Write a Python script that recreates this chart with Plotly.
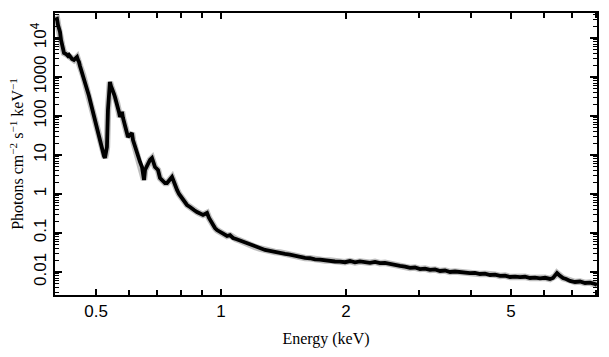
import plotly.graph_objects as go

# Energy (keV) and flux (photons cm^-2 s^-1 keV^-1)
energy = [
    0.398, 0.4026, 0.4048, 0.4093, 0.4116, 0.4139, 0.4162, 0.4185, 0.4232, 0.4279,
    0.4302, 0.4350, 0.4375, 0.4423, 0.4448, 0.4498, 0.4522, 0.4548, 0.4573, 0.4598,
    0.4650, 0.4676, 0.4727, 0.4754, 0.4807, 0.4833, 0.4888, 0.4915, 0.4969, 0.4997,
    0.5052, 0.5109, 0.5166, 0.5195, 0.5224, 0.5253, 0.5282, 0.5311, 0.5341, 0.5370,
    0.5400, 0.5430, 0.5460, 0.5492, 0.5522, 0.5553, 0.5615, 0.5646, 0.5677, 0.5709,
    0.5741, 0.5772, 0.5806, 0.5870, 0.5935, 0.5968, 0.6034, 0.6101, 0.6137, 0.6205,
    0.6274, 0.6310, 0.6380, 0.6451, 0.6486, 0.6524, 0.6560, 0.6633, 0.6670, 0.6744,
    0.6819, 0.6857, 0.6934, 0.7012, 0.7050, 0.7129, 0.7208, 0.7248, 0.7330, 0.7412,
    0.7494, 0.7578, 0.7620, 0.7704, 0.7749, 0.7835, 0.7922, 0.8010, 0.8099, 0.8189,
    0.8281, 0.8419, 0.8513, 0.8608, 0.8753, 0.8851, 0.8951, 0.9050, 0.9150, 0.9254,
    0.9356, 0.9461, 0.9566, 0.9672, 0.9781, 0.9890, 1.000, 1.0168, 1.0339, 1.0512,
    1.0688, 1.0867, 1.1111, 1.1424, 1.1746, 1.2076, 1.2416, 1.2765, 1.3124, 1.3493,
    1.3872, 1.4262, 1.4663, 1.5075, 1.5499, 1.5935, 1.6383, 1.6843, 1.7317, 1.7804,
    1.8304, 1.8819, 1.9349, 1.9893, 2.045, 2.103, 2.162, 2.223, 2.286, 2.350,
    2.416, 2.484, 2.554, 2.626, 2.700, 2.776, 2.854, 2.934, 3.017, 3.102,
    3.189, 3.279, 3.371, 3.466, 3.563, 3.664, 3.767, 3.873, 3.981, 4.093,
    4.209, 4.327, 4.449, 4.574, 4.703, 4.835, 4.971, 5.111, 5.254, 5.402,
    5.554, 5.710, 5.871, 6.036, 6.205, 6.310, 6.380, 6.450, 6.523, 6.596,
    6.669, 6.781, 6.934, 7.129, 7.329, 7.536, 7.747, 7.965, 8.054,
]
flux = [
    28960, 30700, 21540, 14250, 8890, 6620, 4380, 4120, 3890, 3455,
    3665, 3070, 2895, 2730, 2895, 3260, 2730, 2425, 1915, 1603,
    1125, 889, 624, 492, 326, 257, 160, 106, 78.9, 52.2,
    32.6, 22.9, 16.0, 11.9, 9.43, 8.38, 10.6, 16.0, 143, 464,
    745, 588, 522, 464, 366, 307, 215, 170, 127, 94.2,
    119, 127, 88.9, 52.2, 38.9, 28.9, 32.6, 36.6, 24.2, 16.0,
    11.9, 8.89, 6.62, 4.92, 3.67, 2.29, 4.12, 5.54, 6.24, 7.44,
    8.38, 6.62, 4.92, 4.38, 4.12, 2.57, 2.29, 2.03, 1.91, 1.91,
    2.15, 2.57, 2.73, 2.03, 1.60, 1.27, 1.0, 0.838, 0.702, 0.624,
    0.522, 0.464, 0.412, 0.389, 0.345, 0.326, 0.307, 0.290, 0.307, 0.326,
    0.243, 0.191, 0.160, 0.134, 0.119, 0.112, 0.100, 0.0942, 0.0838, 0.0880,
    0.0744, 0.0702, 0.0640, 0.0554, 0.0510, 0.0438, 0.0400, 0.0367, 0.0350, 0.0326,
    0.0315, 0.0290, 0.0280, 0.0257, 0.0250, 0.0229, 0.0225, 0.0210, 0.0208, 0.0198,
    0.0196, 0.0186, 0.0185, 0.0178, 0.0191, 0.0176, 0.0186, 0.0175, 0.0172, 0.0182,
    0.0168, 0.0172, 0.0160, 0.0153, 0.0143, 0.0137, 0.0127, 0.0130, 0.0119, 0.0122,
    0.0113, 0.0116, 0.0106, 0.0109, 0.0100, 0.0103, 0.0099, 0.00960, 0.00935, 0.00950,
    0.00889, 0.00905, 0.00838, 0.00855, 0.00795, 0.00810, 0.00744, 0.00760, 0.00735, 0.00755,
    0.00702, 0.00720, 0.00690, 0.00710, 0.00662, 0.00702, 0.00789, 0.00942, 0.00838, 0.00744,
    0.00702, 0.00662, 0.00588, 0.00554, 0.00570, 0.00523, 0.00535, 0.00493, 0.00464,
]

x_tickvals = [0.5, 1, 2, 5]
x_ticktext = ["0.5", "1", "2", "5"]
x_minor = [0.4, 0.6, 0.7, 0.8, 0.9, 3, 4, 6, 7, 8]
y_tickvals = [0.01, 0.1, 1, 10, 100, 1000, 10000]
y_ticktext = ["0.01", "0.1", "1", "10", "100", "1000", "10<sup>4</sup>"]
y_minor = [m * 10.0 ** e for e in range(-3, 5) for m in range(2, 10)]

fig = go.Figure()
# faint halo (error-bar fuzz) under the main line
fig.add_trace(go.Scatter(
    x=energy, y=flux, mode="lines",
    line=dict(color="rgba(0,0,0,0.25)", width=6.5),
    showlegend=False, hoverinfo="skip",
))
fig.add_trace(go.Scatter(
    x=energy, y=flux, mode="lines",
    line=dict(color="black", width=3.8),
    showlegend=False, hoverinfo="skip",
))

tick_font = dict(family="Liberation Sans, Arial, sans-serif", size=17, color="black")
title_font = dict(family="Liberation Serif, Times New Roman, serif", size=16, color="black")

fig.update_layout(
    width=609, height=357,
    margin=dict(l=55, r=12, t=13, b=62),
    paper_bgcolor="white", plot_bgcolor="white",
    xaxis=dict(
        type="log", range=[-0.4, 0.906], automargin=False,
        tickmode="array", tickvals=x_tickvals, ticktext=x_ticktext,
        ticks="inside", ticklen=6, tickwidth=1.5, tickcolor="black",
        minor=dict(tickmode="array", tickvals=x_minor, ticks="inside",
                   ticklen=5, tickwidth=1.5, tickcolor="black", showgrid=False),
        showline=True, linecolor="black", linewidth=2, mirror="ticks",
        showgrid=False, zeroline=False, tickfont=tick_font,
        title=dict(text="Energy (keV)", font=title_font, standoff=12),
    ),
    yaxis=dict(
        type="log", range=[-2.59, 4.64], automargin=False,
        tickmode="array", tickvals=y_tickvals, ticktext=y_ticktext,
        ticks="inside", ticklen=7, tickwidth=1.5, tickcolor="black",
        tickangle=-90,
        minor=dict(tickmode="array", tickvals=y_minor, ticks="inside",
                   ticklen=4, tickwidth=1, tickcolor="black", showgrid=False),
        showline=True, linecolor="black", linewidth=2, mirror="ticks",
        showgrid=False, zeroline=False, tickfont=tick_font,
        title=dict(text="Photons cm<sup>−2</sup> s<sup>−1</sup> keV<sup>−1</sup>",
                   font=title_font, standoff=0),
    ),
)

fig.write_html("out.html", config={"displayModeBar": False},
               post_script="document.body.style.margin='0px';")
